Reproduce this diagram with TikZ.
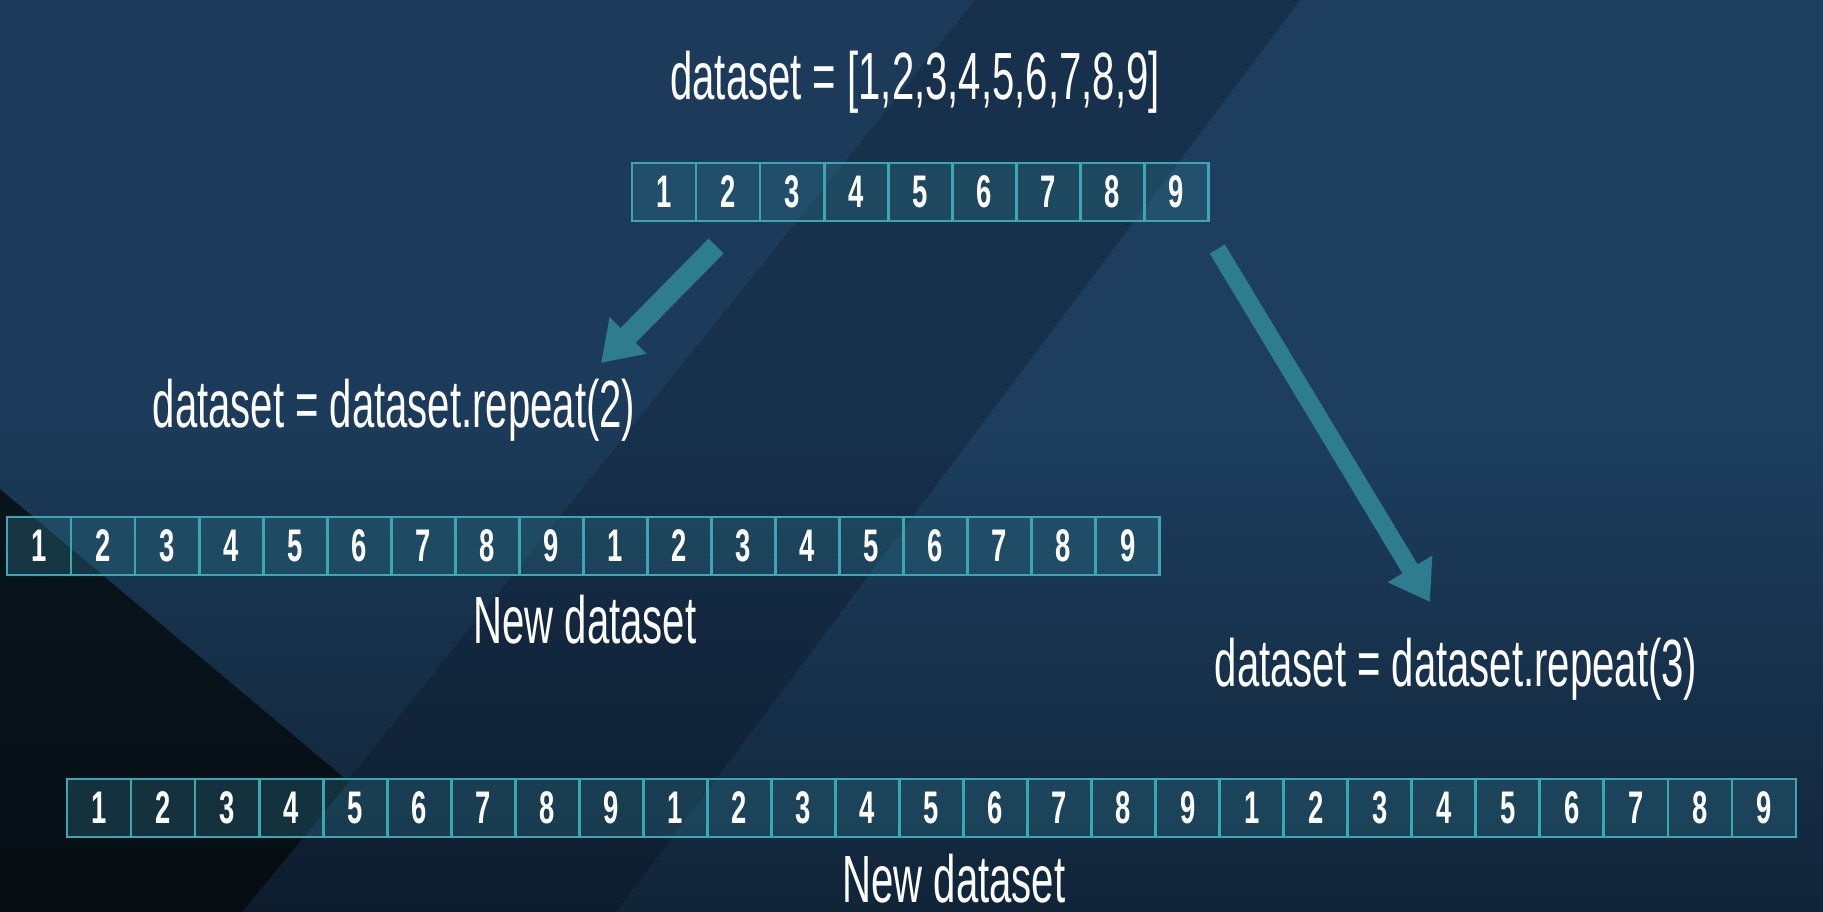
\documentclass[tikz,border=0pt]{standalone}
\usepackage{fontspec}
\usepackage{tikz}
\usetikzlibrary{positioning}
\usetikzlibrary{calc, arrows.meta, fadings}

\newfontfamily\labelfont[FakeStretch=0.6]{Liberation Sans}
\newfontfamily\numfont[FakeStretch=0.6]{Liberation Sans}

\definecolor{bgmid}{HTML}{1C3B5A}
\definecolor{bgband}{HTML}{17304C}
\definecolor{bgright}{HTML}{1D3E5F}
\definecolor{bgdark}{HTML}{0A1720}
\definecolor{cellline}{HTML}{3EA6B3}
\definecolor{cellfill}{HTML}{2C7488}
\definecolor{arrowteal}{HTML}{2D7D8F}

\tikzfading[name=fadedown, top color=transparent!100, bottom color=transparent!0]

\begin{document}
\begin{tikzpicture}[
            x = 0.01cm, y = -0.01cm, % one unit = one pixel, y grows downwards
            cell/.style = {draw = cellline, line width = 0.8pt, fill = cellfill,
                fill opacity = 0.35, text opacity = 1, text = white,
                minimum width = 0.64cm, minimum height = 0.58cm,
                inner sep = 0pt, outer sep = 0pt,
                font = \numfont\bfseries\fontsize{13}{15}\selectfont},
            lbl/.style = {text = white, anchor = base, inner sep = 0pt,
                font = \labelfont\fontsize{19}{22}\selectfont},
            bigarrow/.style = {draw = arrowteal, line width = #1,
                -{Triangle[width = 14pt, length = 11pt]}},
            bigarrow/.default = 5.5pt
        ]

        % background
        \fill[bgmid] (0,0) rectangle (1823,912);
        \fill[bgright] (1300,0) -- (1823,0) -- (1823,912) -- (616,912) -- cycle;
        \fill[bgband] (975,0) -- (1300,0) -- (616,912) -- (242,912) -- cycle;
        \fill[bgdark] (0,489) -- (349,782) -- (242,912) -- (0,912) -- cycle;
        \fill[black, path fading = fadedown, fill opacity = 0.4] (0,430) rectangle (1823,912);

        % labels
        \node[lbl] (title) at (915,100) {dataset = [1,2,3,4,5,6,7,8,9]};
        \node[lbl] (Rtwo) at (394,427) {dataset = dataset.repeat(2)};
        \node[lbl] (Ntwo) at (585,643) {New dataset};
        \node[lbl] (Rthree) at (1456,686) {dataset = dataset.repeat(3)};
        \node[lbl] (Nthree) at (954,902) {New dataset};

        % original dataset
        \node[cell] (A1) at (664,192) {1};
        \foreach \i [remember = \i as \prev (initially 1)] in {2,...,9}
            \node[cell, right = 0pt of A\prev] (A\i) {\i};

        % repeated twice
        \node[cell] (B1) at (39,546) {1};
        \foreach \i [remember = \i as \prev (initially 1),
                     evaluate = \i as \d using {int(mod(\i-1,9)+1)}] in {2,...,18}
            \node[cell, right = 0pt of B\prev] (B\i) {\d};

        % repeated three times
        \node[cell] (C1) at (99,808) {1};
        \foreach \i [remember = \i as \prev (initially 1),
                     evaluate = \i as \d using {int(mod(\i-1,9)+1)}] in {2,...,27}
            \node[cell, right = 0pt of C\prev] (C\i) {\d};

        \draw[bigarrow = 6pt] ($(A2.south)+(-12,25)$) -- ($(Rtwo.base)+(207,-64)$);
        \draw[bigarrow = 5pt] ($(A9.south)+(41,28)$) -- ($(Rthree.base)+(-26,-84)$);

\end{tikzpicture}
\end{document}
